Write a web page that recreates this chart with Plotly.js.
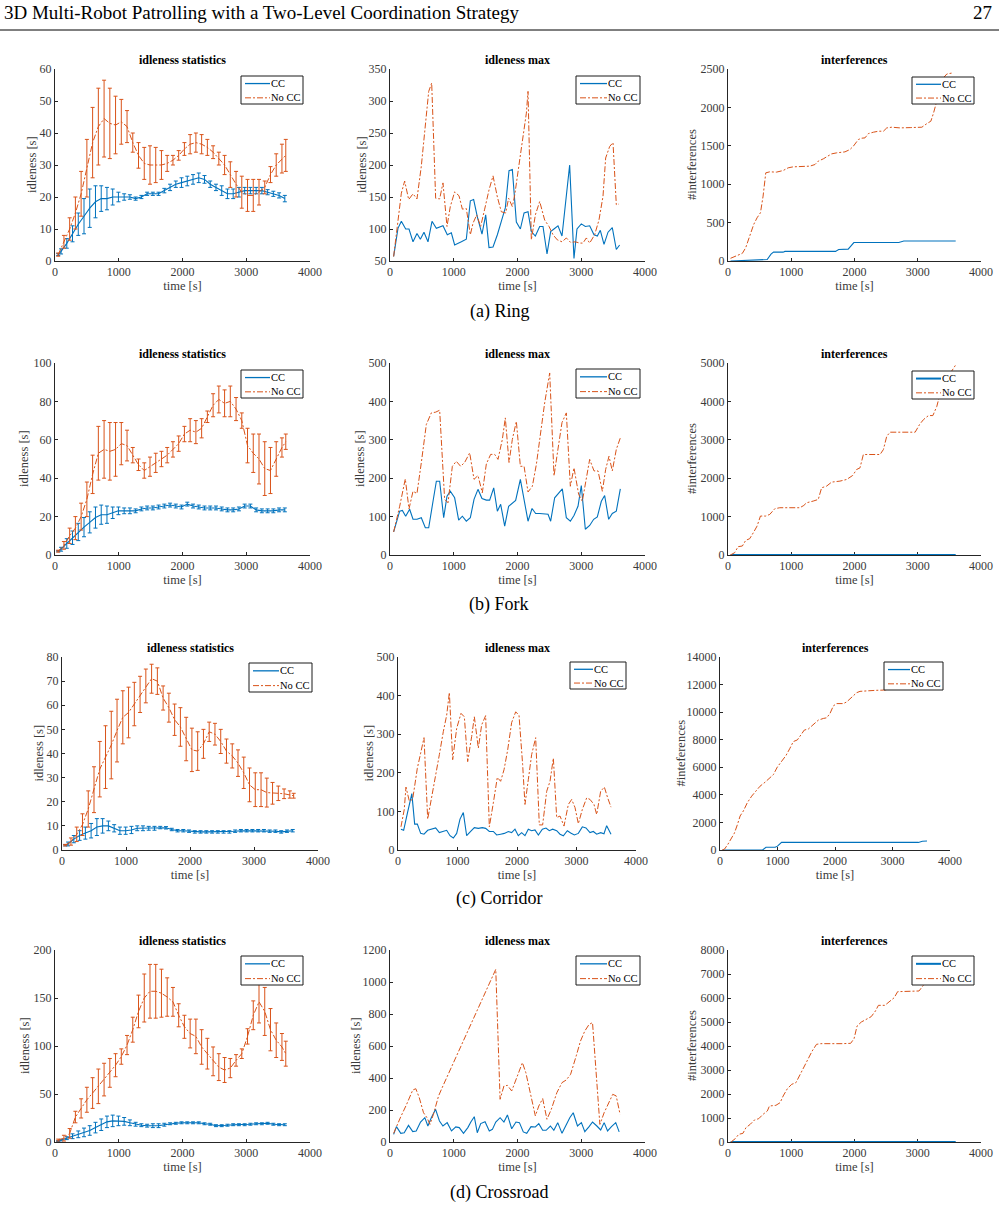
<!DOCTYPE html>
<html>
<head>
<meta charset="utf-8">
<script src="https://cdn.plot.ly/plotly-3.0.1.min.js"></script>
<style>
  html, body { margin: 0; padding: 0; background: #fff; }
  #fig { width: 999px; height: 1209px; }
</style>
</head>
<body>
<div id="fig"></div>
<script>
// ---------- time grids of the idleness statistics (s) ----------
const statTimeNoCC = [50,140,230,320,410,500,590,680,770,860,950,1040,1130,1220,1310,1400,1490,1580,1670,1760,1850,1940,2030,2120,2210,2300,2390,2480,2570,2660,2750,2840,2930,3020,3110,3200,3290,3380,3470,3560,3620];
const statTimeCC = [50,95,185,275,365,455,545,635,725,815,905,995,1085,1175,1265,1355,1445,1535,1625,1715,1805,1895,1985,2075,2165,2255,2345,2435,2525,2615,2705,2795,2885,2975,3065,3155,3245,3335,3425,3515,3605];

// ---------- (a) Ring ----------
const ringMeanNoCC = [2,6,10,15,21,29,37,42,44.5,43,42.5,43.5,42,37,33,30.5,30,30,30,30.5,31.5,33,35,36.5,37,36.5,35.5,34,32,30,27,24,21.5,20.5,20.5,21.5,23,27,30,32,33];
const ringErrNoCC = [0.5,2,3.5,5,7,9,11,12,12,11,9,7,5,3,4,5,6,5.5,4.5,2.5,1.5,1.5,2,3,3,3,2.5,2,2,3,4,4,5,5,5,4,2,2.5,3.5,4.5,5];
const ringMeanCC = [2,3,5.5,8.5,11.5,14,16.5,18.5,19.5,19.5,20,20,20,20,19.5,20,21,21,21,22,23,24,24.5,25,25.5,26,25.5,24,23,22,21,21,21.5,22,22,22,22,21.5,21,20.5,19.5];
const ringErrCC = [0.3,0.8,1.5,2.5,3.5,5.5,6,5,4,3.5,2.5,1.5,1,0.7,0.5,0.5,0.5,0.5,0.5,0.7,1,1,1.5,1.5,1.5,1.5,1.2,1,1,1.5,1.5,1.5,1.5,1,1,1,1,0.8,0.8,0.8,1];

const ringMaxTimeNoCC = [57,178,230,293,361,423,491,570,607,654,716,779,831,894,946,1014,1082,1135,1197,1260,1302,1360,1422,1485,1553,1616,1684,1746,1814,1861,1919,1956,2024,2086,2139,2165,2217,2280,2348,2426,2494,2557,2625,2698,2766,2834,2907,2975,3027,3080,3132,3210,3278,3341,3383,3446,3498,3550,3592];
const ringMaxNoCC = [57,156,175,146,155,147,198,286,315,328,148,147,172,104,135,158,152,131,132,91,109,122,104,131,161,183,150,127,125,148,135,153,200,250,281,315,83,122,143,114,104,91,83,80,86,79,80,78,78,86,78,91,114,151,211,229,235,138,139];
const ringMaxTimeCC = [57,125,178,246,298,361,423,476,533,596,659,727,831,899,962,1014,1119,1197,1260,1312,1370,1443,1501,1553,1616,1684,1746,1809,1867,1919,1982,2045,2103,2165,2217,2280,2348,2400,2463,2520,2572,2635,2698,2755,2818,2886,2933,3001,3064,3132,3200,3252,3299,3357,3420,3487,3550,3602];
const ringMaxCC = [57,101,112,100,100,80,93,84,95,80,112,101,105,91,94,75,80,84,144,146,119,92,122,71,72,91,112,133,191,193,111,100,125,127,96,89,104,104,61,96,100,105,89,145,200,54,100,108,104,105,91,89,98,76,95,102,68,75];

const ringIntTimeNoCC = [40,106,227,280,343,407,460,513,555,597,660,766,872,951,1030,1189,1295,1374,1427,1506,1585,1638,1717,1849,1929,1982,2061,2114,2166,2219,2299,2378,2457,2510,2589,2721,2880,3065,3144,3207,3250,3300,3400,3460,3560];
const ringIntNoCC = [35,56,100,173,325,477,563,628,845,1148,1161,1157,1178,1213,1226,1226,1235,1256,1300,1330,1365,1395,1408,1421,1452,1495,1582,1599,1603,1659,1677,1690,1690,1733,1742,1733,1737,1742,1789,1820,1928,2080,2380,2435,2450];
const ringIntTimeCC = [40,300,580,620,680,720,870,900,1700,1750,1900,1990,2700,2780,3600];
const ringIntCC = [0,5,15,20,90,115,115,125,125,150,155,240,240,260,260];

// ---------- (b) Fork ----------
const forkMeanNoCC = [2,5,10,14,20,29,42,53,55,54,55,58,57,52,47,44,46,48,50,52,55,58,63,65,64,66,72,78,81,79,80,76,70,57,53,50,45,44,50,56,59];
const forkErrNoCC = [0.5,2,4,6,7,9,10,14,15,15,14,11,8,4,3,4,5,5,4,4,4,4,4,6,6,5,3,6,7,7,8,6,4,9,10,13,14,12,9,5,4];
const forkMeanCC = [2,3,6,9,12,14.5,17,19.5,21,21,22,23,23,23,23,24,24.5,24.5,25,25.5,26,25.5,25,26.5,25.5,25,24.5,24.5,24.5,24,23.5,23.5,24,25.5,25.5,23.5,23,23,23,23.5,23.5];
const forkErrCC = [0.3,1,2.5,3.5,4.5,5,5.5,5.5,5,4.5,3,2,1.5,1.5,1,1,1,1,1,1,1,1,1,1,1,1,1,1,1,1,1,1,1,1,1,1,1,1,1,1,1];

const forkMaxTimeNoCC = [57,152,240,298,361,423,491,570,648,716,779,857,910,978,1040,1108,1171,1250,1318,1380,1448,1511,1579,1642,1694,1762,1809,1867,1919,1982,2045,2103,2165,2233,2296,2364,2426,2505,2573,2635,2698,2766,2829,2886,2959,3017,3080,3132,3200,3263,3331,3383,3435,3487,3550,3613];
const forkMaxNoCC = [60,127,198,120,166,160,240,340,370,372,377,145,136,231,244,231,241,266,197,207,162,237,262,262,249,301,357,241,301,348,231,231,164,179,236,327,396,474,206,276,345,370,179,227,158,140,197,249,219,219,166,223,257,219,275,305];
const forkMaxTimeCC = [57,152,194,246,308,361,423,491,554,607,675,727,779,842,894,946,1014,1077,1135,1197,1260,1318,1380,1443,1511,1563,1627,1684,1736,1799,1861,1919,1971,2045,2103,2165,2228,2285,2348,2416,2479,2520,2583,2703,2766,2829,2886,2949,3001,3064,3132,3195,3252,3315,3367,3430,3487,3550,3613];
const forkMaxCC = [60,114,116,101,119,93,93,97,71,71,140,192,192,97,153,166,149,91,101,88,97,145,171,147,143,143,175,114,132,75,127,136,142,197,149,88,121,108,108,106,106,88,149,172,97,88,103,127,181,67,77,93,99,140,155,93,108,114,172];

const forkIntTimeNoCC = [37,106,159,227,280,343,407,460,513,597,660,740,819,1136,1199,1242,1347,1427,1480,1559,1638,1770,1876,1971,2034,2087,2140,2404,2457,2510,2563,2959,3028,3091,3170,3239,3302,3329,3420,3500,3600];
const forkIntNoCC = [0,61,217,234,381,425,598,754,1014,1014,1057,1205,1231,1231,1291,1360,1404,1447,1750,1794,1898,1924,1967,2071,2227,2270,2617,2617,2747,3094,3198,3198,3397,3527,3631,3631,3873,4047,4400,4700,4950];
const forkIntTimeCC = [40,3600];
const forkIntCC = [0,0];

// ---------- (c) Corridor ----------
const corrMeanNoCC = [2,3.5,6.5,10.5,17,25,33.5,38.5,43.5,49.5,55,57,60.5,64.5,68,71,70,63,59,54,51,46,41.5,41,44,49,48,45,41,39,36,32,27,25,25,23.8,23.5,23.5,23.3,23,22.5];
const corrErrNoCC = [0.3,1.5,3,4.5,7.5,9.5,11.5,13,14,13,11,10.5,9,7.5,7,6,5.5,5,6,6.5,8,9,9,8,6,4,4.5,5,5,5,5.5,6.5,7,7,7,6,4.5,3,2,1.5,1];
const corrMeanCC = [2,2.5,4.5,6,7,8,9.5,10,10,9,8,8,8.3,9,9,9,9,9.3,9.2,8.5,8,8,7.8,7.5,7.5,7.5,7.5,7.5,7.5,7.5,7.8,8,8,8,8,8,7.8,7.8,7.5,7.8,8];
const corrErrCC = [0.3,0.8,1.5,2,2.5,3,3.5,3,2,1.5,1.5,1.5,1.5,1,1,0.8,0.8,0.5,0.5,0.5,0.5,0.5,0.5,0.5,0.5,0.5,0.5,0.5,0.5,0.5,0.5,0.5,0.5,0.5,0.5,0.5,0.5,0.5,0.5,0.5,0.5];

const corrMaxTimeNoCC = [50,105,134,190,246,325,381,437,499,566,633,695,762,818,863,919,986,1059,1115,1171,1238,1283,1350,1406,1473,1535,1602,1669,1725,1782,1843,1910,1978,2034,2095,2134,2190,2246,2314,2375,2431,2499,2555,2611,2667,2723,2790,2863,2919,2975,3031,3098,3171,3227,3294,3339,3406,3468,3524,3580];
const corrMaxNoCC = [60,105,163,127,131,212,251,291,80,135,187,247,307,349,408,234,315,354,345,229,294,345,264,324,348,60,122,188,178,208,259,330,358,349,221,118,182,247,291,65,65,152,178,238,84,88,62,118,131,110,68,105,135,131,118,92,152,163,135,111];
const corrMaxTimeCC = [50,95,160,233,280,325,381,437,499,566,633,695,762,818,874,930,986,1042,1098,1154,1221,1283,1350,1417,1473,1535,1602,1658,1725,1787,1854,1910,1966,2022,2078,2134,2190,2246,2302,2359,2426,2487,2543,2599,2667,2723,2779,2846,2902,2964,3031,3098,3159,3227,3283,3339,3406,3462,3507,3580];
const corrMaxCC = [54,51,97,146,67,67,43,41,51,54,57,45,48,51,37,31,43,80,97,37,48,58,56,58,56,48,48,39,41,43,48,45,54,37,45,37,54,50,52,39,54,57,50,54,50,41,37,50,44,39,43,60,57,45,48,41,45,42,63,41];

const corrIntTimeNoCC = [40,80,140,200,250,305,350,406,475,551,626,696,783,858,928,997,1072,1148,1217,1275,1345,1409,1467,1536,1612,1710,1797,1855,1913,1971,2029,2145,2203,2261,2319,2377,2435,2550,2700,2850,2950,3100,3300,3600];
const corrIntNoCC = [0,72,432,863,1223,1870,2469,2829,3428,3908,4316,4627,4915,5179,5466,6018,6425,6857,7384,7864,7984,8343,8703,8775,9063,9422,9542,9590,9902,10453,10621,10621,10741,10980,11220,11412,11508,11550,11580,11600,11650,12000,12400,12900];
const corrIntTimeCC = [40,740,800,960,1000,1070,3450,3520,3600];
const corrIntCC = [0,0,200,200,280,550,550,640,650];

// ---------- (d) Crossroad ----------
const crossMeanNoCC = [2,4,9,26,35,44,51,58,65,72,80,89,101,117,136,150,157,157,155,151,146,132,120,113,110,99,92,84,78,75,77,85,92,110,132,146,136,117,106,99,92];
const crossErrNoCC = [1,3,5,6,10,13,16,18,17,15,12,8,10,13,17,25,28,28,25,20,15,12,12,15,18,18,16,15,14,13,10,6,5,8,15,22,25,22,18,14,13];
const crossMeanCC = [1,2,4,6,8,10,12,15,18,21,22,22,21.5,20,18.5,17.5,17,17,17,18,19,19.5,20,20,20,20,19,18.5,17,17,17.5,18,18,18,18.5,19,19,19.5,18.5,18,18];
const crossErrCC = [0.5,0.8,1.5,2.5,3.5,4.5,5,5.5,6,6,6,5,4,3,2,1.5,1.5,2,2,1.5,1,1,1,1,1,1,1,1,1,1,1,1,1,1,1,1,1,1,1,1,1];

const crossMaxTimeNoCC = [57,101,169,256,357,405,459,526,580,627,681,762,830,1659,1727,1787,1842,1909,1976,2077,2131,2212,2280,2334,2395,2462,2530,2617,2698,2766,2833,2921,2988,3056,3123,3177,3245,3292,3359,3427,3494,3548,3609];
const crossMaxNoCC = [54,100,158,231,325,333,277,183,152,110,173,288,350,1079,267,350,354,319,392,496,433,288,163,225,271,142,204,308,371,388,423,538,631,694,735,746,381,110,183,246,298,288,173];
const crossMaxTimeCC = [57,101,169,223,290,357,411,479,546,594,648,715,776,830,897,965,1032,1086,1153,1221,1268,1322,1369,1423,1491,1558,1606,1659,1727,1787,1842,1909,1976,2030,2091,2145,2212,2280,2334,2395,2449,2516,2570,2631,2698,2752,2820,2874,2941,3002,3056,3123,3177,3245,3305,3359,3413,3474,3541,3595];
const crossMaxCC = [48,96,54,58,104,65,69,125,152,100,152,204,131,100,121,69,94,90,54,90,125,158,58,115,127,69,79,125,152,125,169,83,125,121,63,54,96,94,115,73,73,100,73,121,54,96,152,183,100,121,65,96,125,100,75,121,69,96,121,63];

const crossIntTimeNoCC = [47,115,169,236,284,351,419,486,554,622,655,757,824,872,939,1007,1074,1128,1196,1264,1331,1399,1466,1804,1939,1993,2041,2108,2196,2264,2331,2378,2480,2561,2628,2682,2919,3020,3088,3250,3450,3600];
const crossIntNoCC = [0,139,319,361,597,736,917,972,1153,1292,1500,1528,1639,1917,2222,2403,2472,2750,3097,3444,3792,4069,4097,4097,4111,4306,4833,5000,5111,5222,5458,5694,5694,5875,6014,6264,6264,6292,6528,6750,6950,7100];
const crossIntTimeCC = [40,3600];
const crossIntCC = [0,0];

// ---------- text ----------
const headerText = '3D Multi-Robot Patrolling with a Two-Level Coordination Strategy';
const pageNumber = '27';
const captions = ['(a) Ring', '(b) Fork', '(c) Corridor', '(d) Crossroad'];
const seriesNames = ['CC', 'No CC'];

// ---------- styling ----------
const W = 999, H = 1209;
const BLUE = '#0072BD', ORANGE = '#D95319';
const AXIS = '#262626', TICKTXT = '#3a3a3a';
const SERIF = 'Liberation Serif, serif';
const DASHDOT = '6px,2px,2px,2px';

// panel pixel boxes [left, top, right, bottom]; key boxes [left, top, right, bottom];
// yt = distance from the y axis to the centre of its rotated title
const panels = [
  {box:[55,69,310,261],  key:[241,76,303,104], yt:23, title:'idleness statistics', ytitle:'idleness [s]', yr:[0,60], dt:10, stat:true,
   cc:[statTimeCC, ringMeanCC, ringErrCC], no:[statTimeNoCC, ringMeanNoCC, ringErrNoCC]},
  {box:[390,69,645,261], key:[576,76,640,104], yt:28, title:'idleness max', ytitle:'idleness [s]', yr:[50,350], dt:50,
   cc:[ringMaxTimeCC, ringMaxCC], no:[ringMaxTimeNoCC, ringMaxNoCC]},
  {box:[728,69,981,261], key:[912,77,974,104], yt:36, title:'interferences', ytitle:'#interferences', yr:[0,2500], dt:500,
   cc:[ringIntTimeCC, ringIntCC], no:[ringIntTimeNoCC, ringIntNoCC]},

  {box:[55,363,310,555],  key:[241,370,303,398], yt:31, title:'idleness statistics', ytitle:'idleness [s]', yr:[0,100], dt:20, stat:true,
   cc:[statTimeCC, forkMeanCC, forkErrCC], no:[statTimeNoCC, forkMeanNoCC, forkErrNoCC]},
  {box:[390,363,645,555], key:[576,369,640,398], yt:30, title:'idleness max', ytitle:'idleness [s]', yr:[0,500], dt:100,
   cc:[forkMaxTimeCC, forkMaxCC], no:[forkMaxTimeNoCC, forkMaxNoCC]},
  {box:[728,363,981,555], key:[912,371,974,399], yt:36, title:'interferences', ytitle:'#interferences', yr:[0,5000], dt:1000, flatCC:true,
   cc:[forkIntTimeCC, forkIntCC], no:[forkIntTimeNoCC, forkIntNoCC]},

  {box:[62,657,318,850],  key:[249,663,312,692], yt:24, title:'idleness statistics', ytitle:'idleness [s]', yr:[0,80], dt:10, stat:true,
   cc:[statTimeCC, corrMeanCC, corrErrCC], no:[statTimeNoCC, corrMeanNoCC, corrErrNoCC]},
  {box:[398,657,636,850], key:[570,662,626,689], yt:30, title:'idleness max', ytitle:'idleness [s]', yr:[0,500], dt:100,
   cc:[corrMaxTimeCC, corrMaxCC], no:[corrMaxTimeNoCC, corrMaxNoCC]},
  {box:[720,657,950,850], key:[884,662,943,690], yt:40, title:'interferences', ytitle:'#inteferences', yr:[0,14000], dt:2000,
   cc:[corrIntTimeCC, corrIntCC], no:[corrIntTimeNoCC, corrIntNoCC]},

  {box:[55,950,310,1142],  key:[241,956,303,985], yt:30, title:'idleness statistics', ytitle:'idleness [s]', yr:[0,200], dt:50, stat:true,
   cc:[statTimeCC, crossMeanCC, crossErrCC], no:[statTimeNoCC, crossMeanNoCC, crossErrNoCC]},
  {box:[390,950,645,1142], key:[576,956,640,985], yt:34, title:'idleness max', ytitle:'idleness [s]', yr:[0,1200], dt:200,
   cc:[crossMaxTimeCC, crossMaxCC], no:[crossMaxTimeNoCC, crossMaxNoCC]},
  {box:[728,950,981,1142], key:[912,956,974,985], yt:36, title:'interferences', ytitle:'#interferences', yr:[0,8000], dt:1000, flatCC:true,
   cc:[crossIntTimeCC, crossIntCC], no:[crossIntTimeNoCC, crossIntNoCC]}
];

const captionY = [311, 605, 898, 1192];

const px = v => v / W;
const py = v => 1 - v / H;

const traces = [];
const layout = {
  width: W, height: H,
  margin: {l: 0, r: 0, t: 0, b: 0},
  paper_bgcolor: '#fff', plot_bgcolor: '#fff',
  font: {family: SERIF, color: '#000'},
  showlegend: false,
  annotations: [], shapes: []
};

panels.forEach((p, i) => {
  const sfx = i === 0 ? '' : String(i + 1);
  const xa = 'x' + sfx, ya = 'y' + sfx;
  const [l, t, r, b] = p.box;

  const mk = (s, name, color, dash, width) => {
    const tr = {
      type: 'scatter', mode: 'lines', x: s[0], y: s[1], name: name,
      xaxis: xa, yaxis: ya,
      line: {color: color, width: width, dash: dash},
      hoverinfo: 'skip'
    };
    if (p.stat) {
      tr.error_y = {type: 'data', array: s[2], visible: true, color: color, thickness: 1, width: 2};
    }
    return tr;
  };
  traces.push(mk(p.cc, seriesNames[0], BLUE, 'solid', p.flatCC ? 2.2 : 1.1));
  traces.push(mk(p.no, seriesNames[1], ORANGE, DASHDOT, 1));

  const axCommon = {
    showline: true, linecolor: AXIS, linewidth: 1,
    ticks: 'inside', ticklen: 3, tickcolor: AXIS, tickwidth: 1,
    showgrid: false, zeroline: false, fixedrange: true,
    tickfont: {family: SERIF, size: 12, color: TICKTXT},
    automargin: false, layer: 'below traces'
  };
  layout['xaxis' + sfx] = Object.assign({}, axCommon, {
    domain: [px(l), px(r)], anchor: ya, range: [0, 4000], tick0: 0, dtick: 1000,
    title: {text: 'time [s]', font: {family: SERIF, size: 12.5, color: TICKTXT}, standoff: 1}
  });
  layout['yaxis' + sfx] = Object.assign({}, axCommon, {
    domain: [py(b), py(t)], anchor: xa, range: p.yr, tick0: p.yr[0], dtick: p.dt, tickformat: 'd'
  });

  // rotated y-axis title
  layout.annotations.push({
    xref: 'paper', yref: 'paper', x: px(l - p.yt), y: py((t + b) / 2),
    xanchor: 'center', yanchor: 'middle', textangle: -90, showarrow: false, borderpad: 0,
    text: p.ytitle, font: {family: SERIF, size: 12.5, color: TICKTXT}
  });

  // panel heading
  layout.annotations.push({
    xref: 'paper', yref: 'paper', x: px((l + r) / 2), y: py(t - 9),
    xanchor: 'center', yanchor: 'middle', showarrow: false,
    text: '<b>' + p.title + '</b>', font: {family: SERIF, size: 12, color: '#000'}
  });

  // key box with a line sample and a label for each series
  const [kl, kt, kr, kb] = p.key;
  layout.shapes.push({
    type: 'rect', xref: 'paper', yref: 'paper', layer: 'above',
    x0: px(kl), x1: px(kr), y0: py(kb), y1: py(kt),
    fillcolor: '#fff', line: {color: '#1a1a1a', width: 1}
  });
  const rows = [kt + (kb - kt) * 0.27, kt + (kb - kt) * 0.78];
  const keyStyles = [
    {name: seriesNames[0], color: BLUE, dash: 'solid', width: p.flatCC ? 2 : 1.3},
    {name: seriesNames[1], color: ORANGE, dash: DASHDOT, width: 1}
  ];
  keyStyles.forEach((k, j) => {
    layout.shapes.push({
      type: 'line', xref: 'paper', yref: 'paper', layer: 'above',
      x0: px(kl + 4), x1: px(kr - 33), y0: py(rows[j]), y1: py(rows[j]),
      line: {color: k.color, width: k.width, dash: k.dash}
    });
    layout.annotations.push({
      xref: 'paper', yref: 'paper', x: px(kr - 33), y: py(rows[j]),
      xanchor: 'left', yanchor: 'middle', showarrow: false, borderpad: 0,
      text: k.name, font: {family: SERIF, size: 10.5, color: '#000'}
    });
  });
});

captions.forEach((c, k) => {
  layout.annotations.push({
    xref: 'paper', yref: 'paper', x: px(499), y: py(captionY[k]),
    xanchor: 'center', yanchor: 'middle', showarrow: false,
    text: c, font: {family: SERIF, size: 18, color: '#000'}
  });
});

// running header and rule
layout.annotations.push({
  xref: 'paper', yref: 'paper', x: px(2), y: py(13), xanchor: 'left', yanchor: 'middle',
  showarrow: false, text: headerText, font: {family: SERIF, size: 19, color: '#000'}
});
layout.annotations.push({
  xref: 'paper', yref: 'paper', x: px(994), y: py(13), xanchor: 'right', yanchor: 'middle',
  showarrow: false, text: pageNumber, font: {family: SERIF, size: 19, color: '#000'}
});
layout.shapes.push({
  type: 'line', xref: 'paper', yref: 'paper', x0: 0, x1: 1, y0: py(30), y1: py(30),
  line: {color: '#000', width: 1}
});

Plotly.newPlot('fig', traces, layout, {displayModeBar: false, staticPlot: true});
</script>
</body>
</html>
